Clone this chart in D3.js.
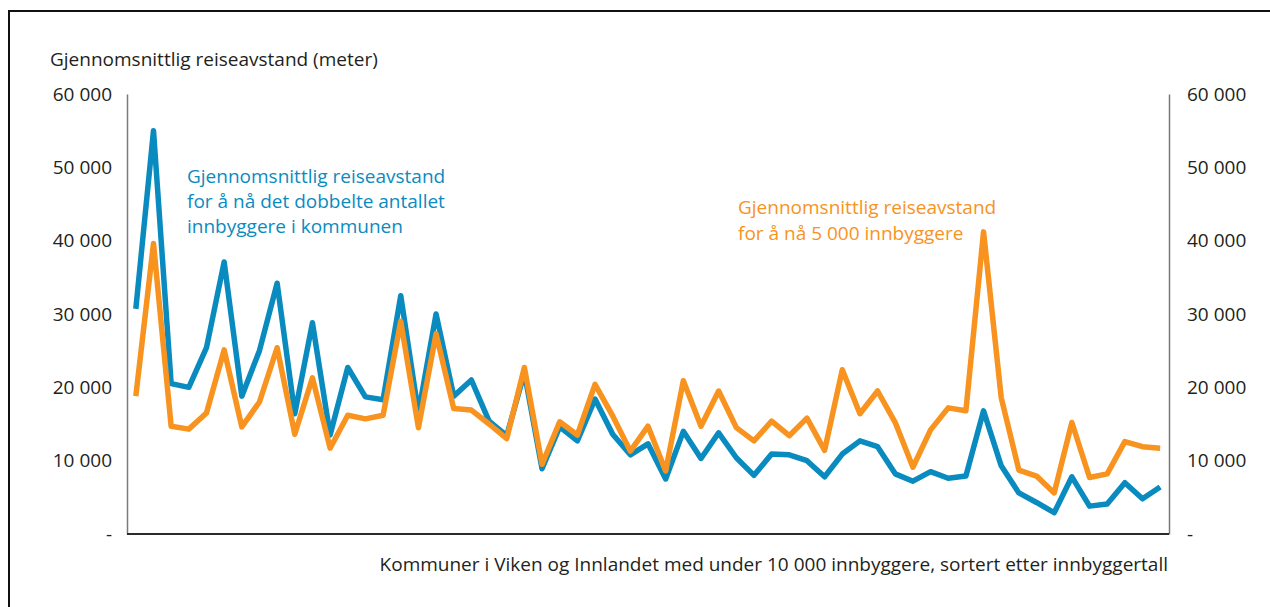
<!DOCTYPE html>
<html>
<head>
<meta charset="utf-8">
<script src="https://cdn.jsdelivr.net/npm/d3@7"></script>
<style>
  html, body { margin: 0; padding: 0; background: #fff; }
  svg { display: block; font-family: "Open Sans", sans-serif; }
</style>
</head>
<body>
<svg id="chart" width="1270" height="607"></svg>
<script>
// Average travel distance (metres) for small municipalities, sorted by population
const doubledPopulation = [30700, 55000, 20500, 20000, 25400, 37100, 18800, 25000, 34200, 16400, 28800, 13500,
  22700, 18700, 18300, 32500, 16500, 30000, 18800, 21000, 15400, 13400, 22000, 8900,
  14600, 12700, 18400, 13600, 10800, 12300, 7500, 14000, 10300, 13800, 10400,
  8000, 10900, 10800, 10000, 7800, 10900, 12700, 11900, 8200, 7200, 8500, 7600,
  7900, 16800, 9300, 5600, 4300, 2900, 7800, 3800, 4100, 7000, 4800, 6400];

const fiveThousand = [18800, 39600, 14700, 14300, 16500, 25100, 14600, 18000, 25400, 13600, 21300, 11700,
  16200, 15700, 16200, 29000, 14500, 27300, 17100, 16900, 15000, 13000, 22700, 9500,
  15300, 13500, 20400, 16100, 11300, 14700, 8600, 20900, 14700, 19500, 14500,
  12700, 15400, 13400, 15800, 11400, 22400, 16400, 19500, 15200, 9100, 14200, 17200,
  16800, 41200, 18600, 8700, 7900, 5600, 15200, 7700, 8200, 12600, 11900, 11700];

const yTicks = [0, 10000, 20000, 30000, 40000, 50000, 60000];
const yTitle = "Gjennomsnittlig reiseavstand (meter)";
const xTitle = "Kommuner i Viken og Innlandet med under 10 000 innbyggere, sortert etter innbyggertall";
const blueLabel = ["Gjennomsnittlig reiseavstand", "for å nå det dobbelte antallet", "innbyggere i kommunen"];
const orangeLabel = ["Gjennomsnittlig reiseavstand", "for å nå 5 000 innbyggere"];

const BLUE = "#0a8bbf";
const ORANGE = "#f7931e";
const TEXT = "#231f20";
const FS = 19;

const svg = d3.select("#chart");
const plotLeft = 127, plotRight = 1169, plotTop = 94, plotBottom = 534;

// frame
svg.append("path")
  .attr("d", `M9,607 V11 H1270`)
  .attr("fill", "none").attr("stroke", "#111").attr("stroke-width", 2);

const x = d3.scalePoint()
  .domain(doubledPopulation.map((d, i) => i))
  .range([plotLeft, plotRight])
  .padding(0.5);

const y = d3.scaleLinear().domain([0, 60000]).range([plotBottom, plotTop]);

const fmtSp = v => v === 0 ? "-" : d3.format(",")(v).replace(/,/g, " ");

// left axis
const leftAxis = d3.axisLeft(y).tickValues(yTicks).tickSize(0).tickPadding(15).tickFormat(fmtSp);
const gl = svg.append("g").attr("transform", `translate(${plotLeft},0)`).call(leftAxis);
gl.select(".domain").attr("stroke", "#7a7a7a").attr("stroke-width", 1.5);
gl.selectAll("text").attr("font-size", FS).attr("fill", TEXT).attr("font-family", "Open Sans");

// right axis
const rightAxis = d3.axisRight(y).tickValues(yTicks).tickSize(0).tickPadding(18).tickFormat(fmtSp);
const gr = svg.append("g").attr("transform", `translate(${plotRight},0)`).call(rightAxis);
gr.select(".domain").attr("stroke", "#7a7a7a").attr("stroke-width", 1.5);
gr.selectAll("text").attr("font-size", FS).attr("fill", TEXT).attr("font-family", "Open Sans");

// baseline
svg.append("line")
  .attr("x1", plotLeft).attr("x2", plotRight)
  .attr("y1", y(0)).attr("y2", y(0))
  .attr("stroke", "#2b2b2b").attr("stroke-width", 2);

// titles
svg.append("text").attr("x", 50).attr("y", 66)
  .attr("font-size", FS).attr("fill", TEXT).text(yTitle);
svg.append("text").attr("x", plotRight - 1).attr("y", 571)
  .attr("text-anchor", "end")
  .attr("font-size", FS).attr("fill", TEXT).text(xTitle);

// lines
const line = d3.line().x((d, i) => x(i)).y(d => y(d));
svg.append("path").datum(doubledPopulation)
  .attr("d", line).attr("fill", "none")
  .attr("stroke", BLUE).attr("stroke-width", 5.5)
  .attr("stroke-linejoin", "round");
svg.append("path").datum(fiveThousand)
  .attr("d", line).attr("fill", "none")
  .attr("stroke", ORANGE).attr("stroke-width", 5.5)
  .attr("stroke-linejoin", "round");

// series labels
const bl = svg.append("text").attr("font-size", FS).attr("fill", BLUE);
blueLabel.forEach((t, i) => bl.append("tspan").attr("x", 187).attr("y", 183 + i * 25).text(t));
const ol = svg.append("text").attr("font-size", FS).attr("fill", ORANGE);
orangeLabel.forEach((t, i) => ol.append("tspan").attr("x", 738).attr("y", 214 + i * 25.5).text(t));
</script>
</body>
</html>
